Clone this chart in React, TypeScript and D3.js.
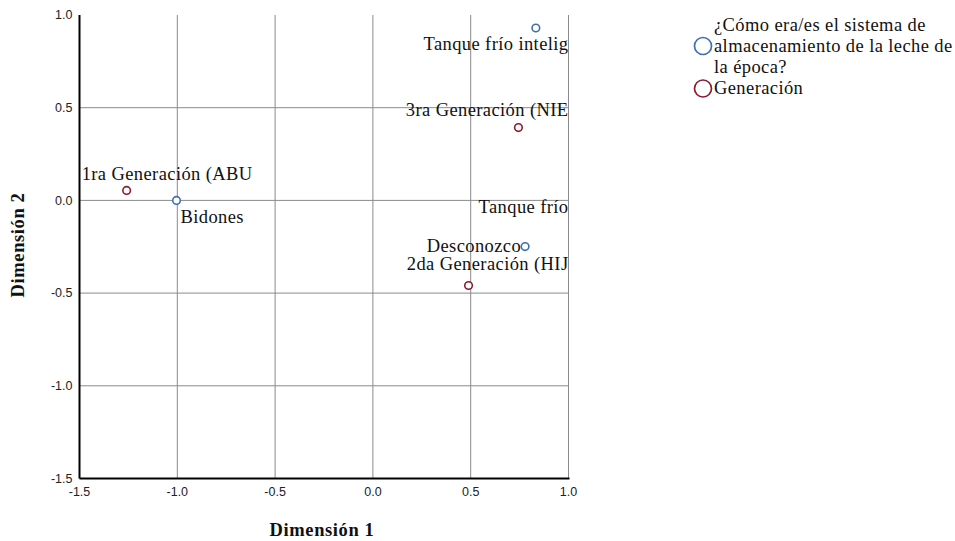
import React from 'react'
import * as d3 from 'd3'

// Coordenadas de categorías
const labels = ['Tanque frío intelig', '3ra Generación (NIE', '1ra Generación (ABU', 'Bidones', 'Tanque frío', 'Desconozco', '2da Generación (HIJ']
const dim1 = [0.833, 0.744, -1.259, -1.004, 1.08, 0.778, 0.489]
const dim2 = [0.93, 0.393, 0.054, 0.0, 0.04, -0.249, -0.459]
const groups = [0, 1, 1, 0, 0, 0, 1]

const groupNames = ['¿Cómo era/es el sistema de|almacenamiento de la leche de|la época?', 'Generación']
const groupColors = ['#3e6eb4', '#8c1c2e']

const xTicks = [-1.5, -1.0, -0.5, 0.0, 0.5, 1.0]
const yTicks = [-1.5, -1.0, -0.5, 0.0, 0.5, 1.0]

// where each label goes relative to its point
const placement: Record<string, { dx: number, dy: number, anchor: string, edge?: boolean }> = {
    'Tanque frío intelig': { dx: 0, dy: 22, anchor: 'end', edge: true },
    '3ra Generación (NIE': { dx: 0, dy: -12, anchor: 'end', edge: true },
    '1ra Generación (ABU': { dx: -45, dy: -10, anchor: 'start' },
    'Bidones': { dx: 4, dy: 23, anchor: 'start' },
    'Tanque frío': { dx: 0, dy: 20, anchor: 'end', edge: true },
    'Desconozco': { dx: -4, dy: 5, anchor: 'end' },
    '2da Generación (HIJ': { dx: 0, dy: -15, anchor: 'end', edge: true },
}

const serif = '"Liberation Serif", "Times New Roman", serif'
const sans = '"Liberation Sans", Arial, sans-serif'

const App = () => {
    const width = 955
    const height = 541
    const left = 79.5
    const right = 568.5
    const top = 15
    const bottom = 478.5

    const x = d3.scaleLinear().domain([-1.5, 1.0]).range([left, right])
    const y = d3.scaleLinear().domain([-1.5, 1.0]).range([bottom, top])
    const fmt = (v: number) => d3.format('.1f')(v).replace('−', '-')

    const points = labels.map((l, i) => ({ label: l, x: x(dim1[i]), y: y(dim2[i]), g: groups[i] }))
    const textStyle = { fontFamily: serif, fontSize: 18.5, letterSpacing: 0.4, fill: '#111' }

    return (
        <svg width={width} height={height} style={{ position: 'absolute', left: 0, top: 0, background: '#fff' }}>
            <defs>
                <clipPath id="plot">
                    <rect x={left} y={top - 10} width={right - left + 0.5} height={bottom - top + 10} />
                </clipPath>
            </defs>
            {/* grid */}
            {xTicks.filter(t => t > -1.5).map(t => (
                <line key={'gx' + t} x1={x(t)} x2={x(t)} y1={top} y2={bottom} stroke="#8a8a8a" strokeWidth={1} />
            ))}
            {yTicks.filter(t => t > -1.5 && t < 1.0).map(t => (
                <line key={'gy' + t} x1={left} x2={right} y1={y(t)} y2={y(t)} stroke="#8a8a8a" strokeWidth={1} />
            ))}
            {/* axes */}
            <line x1={left} x2={left} y1={top} y2={bottom} stroke="#000" strokeWidth={2} />
            <line x1={left} x2={right + 1} y1={bottom} y2={bottom} stroke="#000" strokeWidth={2} />
            {yTicks.map(t => (
                <text key={'ty' + t} x={left - 7} y={y(t)} dy="0.35em" textAnchor="end"
                    fontFamily={sans} fontSize={12.5} fill="#222">{fmt(t)}</text>
            ))}
            {xTicks.map(t => (
                <text key={'tx' + t} x={x(t)} y={bottom + 17} textAnchor="middle"
                    fontFamily={sans} fontSize={12.5} fill="#222">{fmt(t)}</text>
            ))}
            {/* points */}
            <g clipPath="url(#plot)">
                {points.map(p => (
                    <circle key={'c' + p.label} cx={p.x} cy={p.y} r={3.8} fill="#fff"
                        stroke={groupColors[p.g]} strokeWidth={1.6} />
                ))}
            </g>
            {points.map(p => {
                const pl = placement[p.label]
                const tx = pl.edge ? right : p.x + pl.dx
                return (
                    <text key={'l' + p.label} x={tx} y={p.y + pl.dy} textAnchor={pl.anchor} style={textStyle}>{p.label}</text>
                )
            })}
            {/* axis titles */}
            <text x={(left + right) / 2 - 2} y={536} textAnchor="middle" fontFamily={serif}
                fontWeight="bold" fontSize={18.5} letterSpacing={0.6} fill="#111">Dimensión 1</text>
            <text transform={`translate(24, 245) rotate(-90)`} textAnchor="middle"
                fontFamily={serif} fontWeight="bold" fontSize={18.5} letterSpacing={0.6} fill="#111">Dimensión 2</text>
            {/* legend */}
            {groupNames.map((name, i) => {
                const cy = i === 0 ? 46 : 88.5
                const lines = name.split('|')
                const startY = cy - (lines.length > 1 ? 21 : 0)
                return (
                    <g key={'lg' + i}>
                        <circle cx={703} cy={cy} r={8.5} fill="none" stroke={groupColors[i]} strokeWidth={1.7} />
                        {lines.map((ln, j) => (
                            <text key={j} x={714} y={startY + j * 21 + 5.5} style={textStyle}>{ln}</text>
                        ))}
                    </g>
                )
            })}
        </svg>
    )
}

export default App
